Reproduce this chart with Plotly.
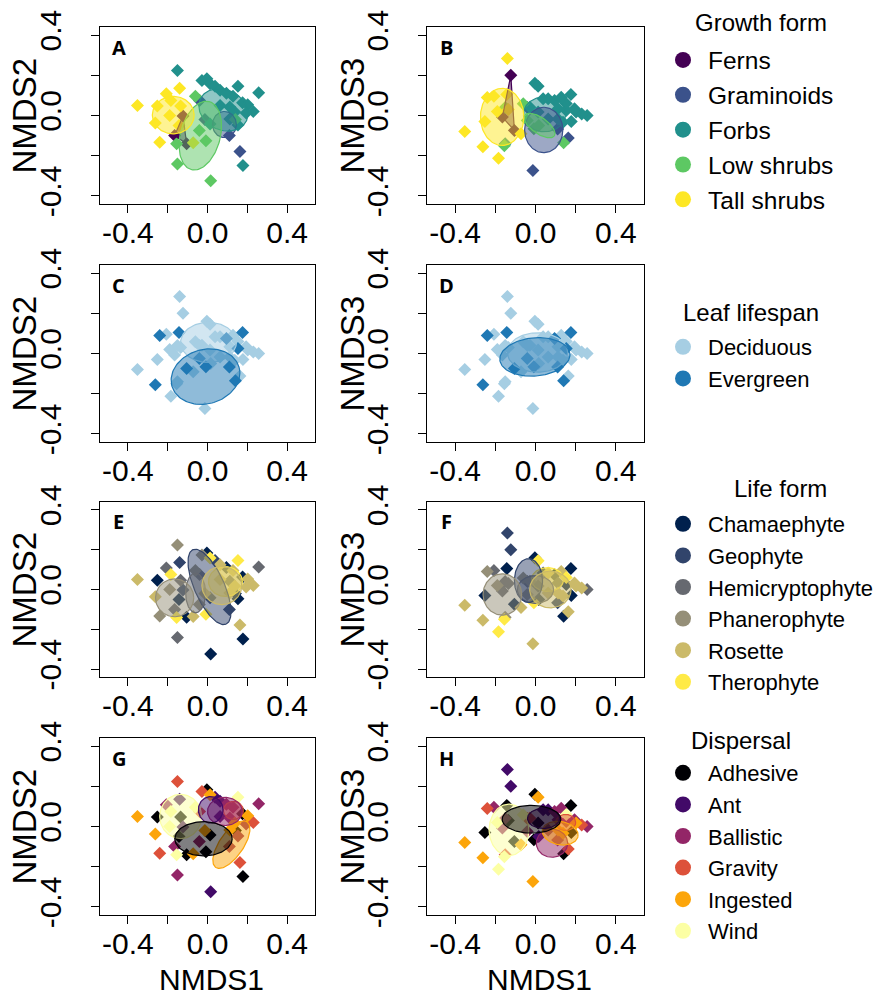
import numpy as np
import plotly.graph_objects as go

# ---------------- data: species scores and traits ----------------
nmds1 = [-0.352, -0.262, -0.252, -0.207, -0.240, -0.184, -0.140, -0.135, -0.072, -0.190, -0.143,
         -0.123, -0.165, -0.105,
         -0.061, -0.151, -0.155, -0.041, -0.008, 0.016, 0.140,
         -0.040, 0.110, 0.163, -0.013,
         -0.151, -0.028, -0.003, 0.013, 0.038, 0.063, 0.095, 0.128, 0.153, 0.257, 0.176,
         0.202, 0.230, 0.194, 0.137, 0.112, 0.153, 0.063, 0.013, 0.178, 0.112]
nmds2 = [0.050, -0.037, 0.047, 0.108, -0.133, 0.075, 0.136, 0.047, -0.136, 0.000, -0.050,
         -0.003, -0.100, -0.140,
         0.096, -0.241, -0.141, -0.075, -0.125, -0.324, -0.020,
         0.075, -0.100, -0.179, -0.020,
         0.224, 0.174, 0.183, 0.158, 0.146, 0.125, 0.111, 0.096, 0.146, 0.113, 0.063,
         0.053, 0.020, 0.013, 0.017, 0.042, -0.047, 0.050, -0.042, -0.249, -0.017]
nmds3 = [-0.079, -0.155, -0.030, 0.096, 0.090, -0.213, 0.284, 0.030, -0.091, 0.020, 0.105,
         0.200, -0.008, -0.074,
         0.058, 0.040, -0.150, -0.025, -0.066, -0.050, -0.135,
         0.040, -0.067, -0.112, -0.273,
         -0.140, 0.041, 0.160, 0.145, 0.083, 0.083, 0.074, 0.091, 0.060, 0.000, 0.105,
         0.017, 0.008, 0.033, -0.033, 0.033, 0.025, -0.017, 0.017, -0.030, -0.017]
growth_form = ["Tall shrubs"] * 11 + ["Ferns"] * 3 + ["Low shrubs"] * 7 + ["Graminoids"] * 4 + ["Forbs"] * 21
leaf_lifespan = ["Deciduous", "Evergreen", "Deciduous", "Deciduous", "Evergreen", "Deciduous", "Deciduous",
                 "Deciduous", "Deciduous", "Deciduous", "Evergreen",
                 "Deciduous", "Deciduous", "Evergreen",
                 "Deciduous", "Deciduous", "Deciduous", "Evergreen", "Evergreen", "Deciduous", "Evergreen",
                 "Deciduous", "Evergreen", "Deciduous", "Deciduous",
                 "Deciduous", "Deciduous", "Deciduous", "Deciduous", "Deciduous", "Deciduous", "Evergreen",
                 "Deciduous", "Deciduous", "Deciduous", "Evergreen", "Deciduous", "Deciduous", "Deciduous",
                 "Deciduous", "Deciduous", "Evergreen", "Deciduous", "Deciduous", "Deciduous", "Deciduous"]
life_form = ["Rosette", "Rosette", "Chamaephyte", "Hemicryptophyte", "Phanerophyte", "Therophyte", "Geophyte",
             "Hemicryptophyte", "Rosette", "Phanerophyte", "Chamaephyte",
             "Geophyte", "Hemicryptophyte", "Chamaephyte",
             "Phanerophyte", "Hemicryptophyte", "Therophyte", "Phanerophyte", "Therophyte", "Chamaephyte",
             "Chamaephyte",
             "Hemicryptophyte", "Geophyte", "Rosette", "Rosette",
             "Phanerophyte", "Phanerophyte", "Chamaephyte", "Therophyte", "Geophyte", "Rosette", "Chamaephyte",
             "Rosette", "Therophyte", "Hemicryptophyte", "Chamaephyte", "Rosette", "Rosette", "Rosette",
             "Rosette", "Geophyte", "Chamaephyte", "Rosette", "Geophyte", "Chamaephyte", "Rosette"]
dispersal = ["Ingested", "Ingested", "Adhesive", "Ballistic", "Gravity", "Wind", "Ant", "Adhesive", "Ingested",
             "Wind", "Adhesive",
             "Ant", "Ballistic", "Adhesive",
             "Wind", "Ballistic", "Wind", "Ballistic", "Adhesive", "Ant", "Adhesive",
             "Gravity", "Ballistic", "Gravity", "Ingested",
             "Gravity", "Gravity", "Adhesive", "Ingested", "Ant", "Ant", "Ballistic", "Ballistic", "Wind",
             "Ballistic", "Adhesive", "Ingested", "Gravity", "Ballistic", "Ingested", "Ballistic", "Ballistic",
             "Ant", "Adhesive", "Adhesive", "Ingested"]

# ---------------- groups and colours ----------------
gf_levels = ["Ferns", "Graminoids", "Forbs", "Low shrubs", "Tall shrubs"]
gf_colors = ["#440154", "#3B528B", "#21908C", "#5DC863", "#FDE725"]
ll_levels = ["Deciduous", "Evergreen"]
ll_colors = ["#A6CEE3", "#1F78B4"]
lf_levels = ["Chamaephyte", "Geophyte", "Hemicryptophyte", "Phanerophyte", "Rosette", "Therophyte"]
lf_colors = ["#00204D", "#31446B", "#666970", "#958F78", "#CBBA69", "#FFEA46"]
di_levels = ["Adhesive", "Ant", "Ballistic", "Gravity", "Ingested", "Wind"]
di_colors = ["#000004", "#420A68", "#932667", "#DD513A", "#FCA50A", "#FCFFA4"]

# ---------------- group ellipses: (group, cx, cy, a, b, angle) ----------------
ell_A = [("Ferns", None, None, None, None, None), ("Graminoids", 0.085, -0.045, 0.06, 0.065, 0),
         ("Forbs", 0.080, 0.028, 0.128, 0.10, -25), ("Low shrubs", -0.036, -0.100, 0.175, 0.10, 75),
         ("Tall shrubs", -0.172, 0.002, 0.105, 0.093, 0)]
ell_B = [("Ferns", None, None, None, None, None), ("Forbs", 0.045, 0.006, 0.105, 0.087, 0),
         ("Graminoids", 0.041, -0.072, 0.095, 0.113, 0), ("Low shrubs", 0.02, -0.05, 0.09, 0.04, -35),
         ("Tall shrubs", -0.166, -0.007, 0.108, 0.142, 0)]
ell_C = [("Deciduous", 0.005, 0.055, 0.14, 0.10, 0), ("Evergreen", -0.010, -0.115, 0.175, 0.135, 15)]
ell_D = [("Deciduous", 0.010, 0.005, 0.15, 0.098, 0), ("Evergreen", -0.003, -0.017, 0.175, 0.095, 5)]
ell_E = [("Therophyte", 0.09, 0.04, 0.085, 0.075, 0), ("Geophyte", 0.01, 0.013, 0.205, 0.075, -66),
         ("Hemicryptophyte", -0.06, -0.017, 0.05, 0.10, 0), ("Phanerophyte", -0.165, -0.042, 0.096, 0.095, 0),
         ("Rosette", 0.072, 0.02, 0.10, 0.096, 0)]
ell_F = [("Therophyte", 0.06, 0.05, 0.08, 0.06, 0), ("Hemicryptophyte", 0.0, 0.0, 0.09, 0.07, 0),
         ("Geophyte", -0.035, 0.045, 0.07, 0.11, 0), ("Phanerophyte", -0.165, -0.025, 0.096, 0.104, 0),
         ("Rosette", 0.074, 0.0, 0.103, 0.092, 0)]
ell_G = [("Wind", -0.135, 0.05, 0.105, 0.11, 0), ("Ingested", 0.12, -0.09, 0.138, 0.06, 55),
         ("Gravity", 0.13, 0.08, 0.05, 0.045, 0), ("Ballistic", 0.087, 0.075, 0.087, 0.07, 0),
         ("Ant", 0.016, 0.083, 0.062, 0.066, 0), ("Adhesive", -0.02, -0.061, 0.144, 0.085, 0)]
ell_H = [("Wind", -0.132, -0.017, 0.099, 0.128, 0), ("Ballistic", 0.082, -0.083, 0.078, 0.07, 0),
         ("Gravity", 0.15, 0.02, 0.05, 0.04, 0), ("Ingested", 0.123, -0.033, 0.09, 0.058, -10),
         ("Ant", 0.04, 0.04, 0.08, 0.05, 0), ("Adhesive", -0.02, 0.036, 0.146, 0.069, 0)]

tick_vals = [-0.4, -0.2, 0.0, 0.2, 0.4]
tick_text = ["-0.4", "", "0.0", "", "0.4"]

# ---------------- layout geometry ----------------
W, H = 893, 998
col_px = [(100, 315), (427, 644)]
row_px = [(27, 204), (265, 442), (502, 677), (738, 915)]

panels = [
    ("A", growth_form, gf_levels, gf_colors, nmds2, ell_A, "NMDS2"),
    ("B", growth_form, gf_levels, gf_colors, nmds3, ell_B, "NMDS3"),
    ("C", leaf_lifespan, ll_levels, ll_colors, nmds3, ell_C, "NMDS2"),
    ("D", leaf_lifespan, ll_levels, ll_colors, nmds3, ell_D, "NMDS3"),
    ("E", life_form, lf_levels, lf_colors, nmds2, ell_E, "NMDS2"),
    ("F", life_form, lf_levels, lf_colors, nmds3, ell_F, "NMDS3"),
    ("G", dispersal, di_levels, di_colors, nmds2, ell_G, "NMDS2"),
    ("H", dispersal, di_levels, di_colors, nmds3, ell_H, "NMDS3"),
]


def rgba(hexc, a):
    h = hexc.lstrip("#")
    return "rgba(%d,%d,%d,%.2f)" % (int(h[0:2], 16), int(h[2:4], 16), int(h[4:6], 16), a)


def ellipse(cx, cy, a, b, ang):
    t = np.linspace(0, 2 * np.pi, 120)
    p = np.deg2rad(ang)
    x = cx + a * np.cos(t) * np.cos(p) - b * np.sin(t) * np.sin(p)
    y = cy + a * np.cos(t) * np.sin(p) + b * np.sin(t) * np.cos(p)
    return x, y


def hull(xs, ys):
    pts = sorted(set(zip(xs, ys)))
    if len(pts) < 3:
        return [p[0] for p in pts], [p[1] for p in pts]

    def cross(o, a, b):
        return (a[0] - o[0]) * (b[1] - o[1]) - (a[1] - o[1]) * (b[0] - o[0])
    lower, upper = [], []
    for p in pts:
        while len(lower) >= 2 and cross(lower[-2], lower[-1], p) <= 0:
            lower.pop()
        lower.append(p)
    for p in reversed(pts):
        while len(upper) >= 2 and cross(upper[-2], upper[-1], p) <= 0:
            upper.pop()
        upper.append(p)
    h = lower[:-1] + upper[:-1] + [lower[0]]
    return [p[0] for p in h], [p[1] for p in h]


fig = go.Figure()
FONT = "Liberation Sans, Arial"
layout = dict(width=W, height=H, margin=dict(l=0, r=0, t=0, b=0, autoexpand=False), paper_bgcolor="white",
              plot_bgcolor="white", font=dict(family=FONT, color="black"), showlegend=True)
annotations = []

for i, (letter, trait, levels, colors, yvals, ells, ylab) in enumerate(panels):
    r, c = divmod(i, 2)
    k = i + 1
    xa = "x" if k == 1 else "x%d" % k
    ya = "y" if k == 1 else "y%d" % k
    xl, xr = col_px[c]
    yt, yb = row_px[r]
    common = dict(showgrid=False, zeroline=False, showline=True, linecolor="black", linewidth=1,
                  mirror=True, ticks="outside", ticklen=8, tickwidth=1, tickcolor="black",
                  tickvals=tick_vals, ticktext=tick_text, automargin=False,
                  tickfont=dict(family=FONT, size=30, color="black"))
    layout["xaxis" if k == 1 else "xaxis%d" % k] = dict(
        domain=[xl / W, xr / W], range=[-0.54, 0.54], anchor=ya, ticklabelstandoff=-6, **common)
    layout["yaxis" if k == 1 else "yaxis%d" % k] = dict(
        domain=[1 - yb / H, 1 - yt / H], range=[-0.44, 0.44], anchor=xa, tickangle=-90,
        ticklabelstandoff=18, **common)

    # points
    for lev, col in zip(levels, colors):
        xs = [x for x, t in zip(nmds1, trait) if t == lev]
        ys = [y for y, t in zip(yvals, trait) if t == lev]
        fig.add_trace(go.Scatter(x=xs, y=ys, mode="markers", xaxis=xa, yaxis=ya, showlegend=False,
                                 marker=dict(symbol="diamond", size=10, color=col, line=dict(width=0)),
                                 hoverinfo="skip"))
    # ellipses / hulls
    cmap = dict(zip(levels, colors))
    for (g, cx, cy, a, b, ang) in ells:
        if cx is None:
            xs = [x for x, t in zip(nmds1, trait) if t == g]
            ys = [y for y, t in zip(yvals, trait) if t == g]
            ex, ey = hull(xs, ys)
        else:
            ex, ey = ellipse(cx, cy, a, b, ang)
        fig.add_trace(go.Scatter(x=list(ex), y=list(ey), mode="lines", fill="toself", xaxis=xa, yaxis=ya,
                                 fillcolor=rgba(cmap[g], 0.5), line=dict(color=cmap[g], width=1.2),
                                 showlegend=False, hoverinfo="skip"))

    annotations.append(dict(text="<b>%s</b>" % letter, xref="x domain" if k == 1 else "x%d domain" % k,
                            yref="y domain" if k == 1 else "y%d domain" % k, x=0.088, y=0.887,
                            xanchor="center", yanchor="middle", showarrow=False,
                            font=dict(family="Open Sans, DejaVu Sans", size=20, color="black")))
    ytitle_x = 24 if c == 0 else 352
    annotations.append(dict(text=ylab, xref="paper", yref="paper", x=ytitle_x / W,
                            y=1 - ((yt + yb) / 2) / H, textangle=-90, showarrow=False,
                            xanchor="center", yanchor="middle",
                            font=dict(family=FONT, size=33, color="black")))
    if r == 3:
        annotations.append(dict(text="NMDS1", xref="paper", yref="paper", x=((xl + xr) / 2 + 4) / W,
                                y=1 - 979 / H, showarrow=False, xanchor="center", yanchor="middle",
                                font=dict(family=FONT, size=30, color="black")))

# legends: (legend id, title, levels, colours, legend top px, item font, title centre x, title centre y)
legend_defs = [
    ("legend", "Growth form", gf_levels, gf_colors, 37.5, 24.5, 761, 22),
    ("legend2", "Leaf lifespan", ll_levels, ll_colors, 326, 22, 751, 312),
    ("legend3", "Life form", lf_levels, lf_colors, 503, 22, 780, 488),
    ("legend4", "Dispersal", di_levels, di_colors, 752, 22, 741, 740),
]
for leg, title, levels, colors, top, fs, tx, ty in legend_defs:
    for lev, col in zip(levels, colors):
        fig.add_trace(go.Scatter(x=[None], y=[None], mode="markers", name=lev, legend=leg,
                                 marker=dict(symbol="circle", size=18, color=col)))
    layout[leg] = dict(x=658 / W, xanchor="left", y=1 - top / H, yanchor="top",
                       font=dict(family=FONT, size=fs, color="black"), itemwidth=40,
                       bgcolor="rgba(0,0,0,0)", borderwidth=0, tracegroupgap=0, itemsizing="trace")
    annotations.append(dict(text=title, xref="paper", yref="paper", x=tx / W, y=1 - ty / H,
                            showarrow=False, xanchor="center", yanchor="middle",
                            font=dict(family=FONT, size=24, color="black")))

layout["annotations"] = annotations
fig.update_layout(**layout)
fig.write_html("out.html", config={"displayModeBar": False},
               post_script="document.body.style.margin='0px';document.body.style.padding='0px';")
